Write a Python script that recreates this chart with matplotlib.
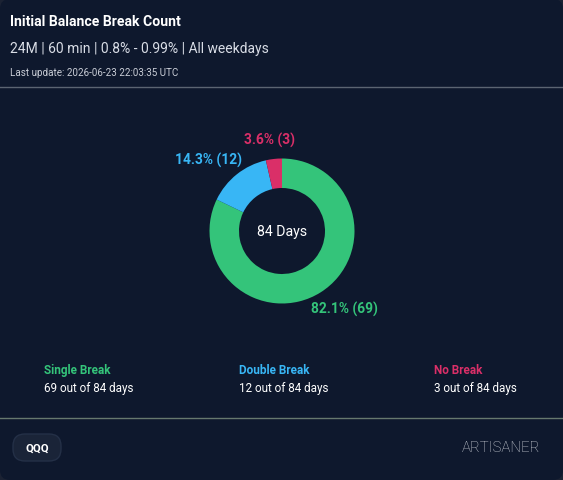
import numpy as np
import matplotlib
matplotlib.use("Agg")
import matplotlib.pyplot as plt
from matplotlib.patches import FancyBboxPatch

# ---- data ----
categories = ["Single Break", "Double Break", "No Break"]
counts = [69, 12, 3]
colors = ["#34c47a", "#38b6f5", "#da2f68"]
total_days = sum(counts)
title = "Initial Balance Break Count"
subtitle = "24M | 60 min | 0.8% - 0.99% | All weekdays"
update_text = "Last update: 2026-06-23 22:03:35 UTC"
ticker = "QQQ"
brand = "ARTISANER"

BG = "#0e182d"
OUTER = "#1b2233"
W, H = 563, 481
plt.rcParams['font.family'] = ['Roboto', 'DejaVu Sans']

fig = plt.figure(figsize=(W / 100, H / 100), dpi=100)
fig.patch.set_facecolor(OUTER)

bg = fig.add_axes([0, 0, 1, 1])
bg.set_xlim(0, W)
bg.set_ylim(H, 0)
bg.axis("off")
card = FancyBboxPatch((0, 0), W, H, boxstyle="round,pad=0,rounding_size=10",
                      facecolor=BG, edgecolor="none", zorder=0)
bg.add_patch(card)

# header
bg.text(10, 22, title, color="white", fontsize=10.1, fontweight="bold", va="center", ha="left")
bg.text(10, 49, subtitle, color="#d9dde6", fontsize=10.0, va="center", ha="left")
bg.text(10, 73, update_text, color="#c9cdd6", fontsize=7.1, va="center", ha="left")
bg.plot([0, W], [87.5, 87.5], color="#5b6472", lw=1)

# donut
cx, cy, R = 282, 232, 72.5
half = 100
ax = fig.add_axes([(cx - half) / W, (H - cy - half) / H, 2 * half / W, 2 * half / H])
wedges, _ = ax.pie(counts, colors=colors, startangle=90, counterclock=False,
                   radius=1, wedgeprops=dict(width=1 - 43 / 72.5, edgecolor="none"))
ax.set_xlim(-half / R, half / R)
ax.set_ylim(-half / R, half / R)
ax.set_aspect("equal")
ax.axis("off")
ax.text(0, 0, f"{total_days} Days", color="white", fontsize=10.2, ha="center", va="center")

# outer labels positioned along mid angle
fig.canvas.draw()
renderer = fig.canvas.get_renderer()
off = 8
pad = 4
for w, c, col in zip(wedges, counts, colors):
    mid = np.deg2rad((w.theta1 + w.theta2) / 2)
    dx, dy = np.cos(mid), -np.sin(mid)
    pct = 100 * c / total_days
    t = bg.text(0, 0, f"{pct:.1f}% ({c})", color=col, fontsize=9.9, fontweight="semibold",
                ha="center", va="center")
    bb = t.get_window_extent(renderer)
    hw, hh = bb.width / 2 + pad, bb.height / 2 + pad
    x = cx + R * dx + dx * (off + hw)
    y = cy + R * dy + dy * (off + hh)
    t.set_position((x, y))

# legend block
xs = [44, 239, 434]
for x, cat, c, col in zip(xs, categories, counts, colors):
    bg.text(x, 371, cat, color=col, fontsize=8.5, fontweight="bold", va="center", ha="left")
    bg.text(x, 389, f"{c} out of {total_days} days", color="white", fontsize=8.4, va="center", ha="left")

bg.plot([0, W], [418.5, 418.5], color="#66786e", lw=1)

# footer
pill = FancyBboxPatch((13, 435), 48, 27, boxstyle="round,pad=0,rounding_size=12",
                      facecolor="#1a2438", edgecolor="#243047", lw=1)
bg.add_patch(pill)
bg.text(37, 448.5, ticker, color="white", fontsize=8.2, fontweight="bold", ha="center", va="center")
bg.text(540, 448, brand, color="#d3d7de", fontsize=10.8, fontweight="light", ha="right", va="center")

fig.savefig("out.png", dpi=100, facecolor=OUTER)
